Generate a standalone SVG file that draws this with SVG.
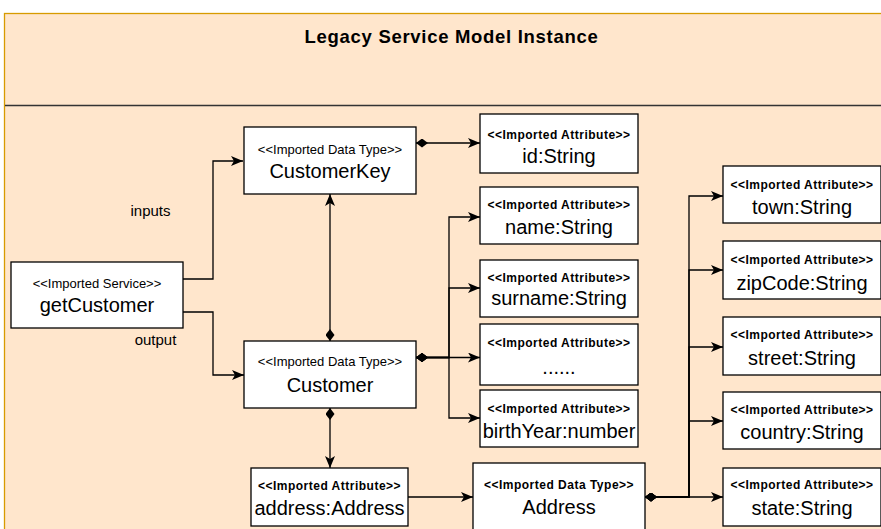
<svg xmlns="http://www.w3.org/2000/svg" width="881" height="529" viewBox="0 0 881 529">
<style>
text{font-family:"Liberation Sans",Arial,Helvetica,sans-serif;fill:#000;text-anchor:middle}
.box{fill:#fff;stroke:#000;stroke-width:1.3}
.st{font-size:13px}
.sb{font-size:12px;font-weight:bold;letter-spacing:0.5px}
.nm{font-size:20px}
.lbl{font-size:15px}
.title{font-size:18.5px;font-weight:bold;letter-spacing:0.7px}
.edge{fill:none;stroke:#000;stroke-width:1.3}
.arr{marker-end:url(#arrow)}
.dia{marker-start:url(#diamond)}
</style>
<defs>
<marker id="arrow" markerUnits="userSpaceOnUse" markerWidth="12" markerHeight="10" refX="12" refY="5" orient="auto" viewBox="0 0 12 10">
<path d="M0,0 L12,5 L0,10 L3,5 z" fill="#000"/>
</marker>
<marker id="diamond" markerUnits="userSpaceOnUse" markerWidth="12" markerHeight="9" refX="0" refY="4.5" orient="auto" viewBox="0 0 12 9">
<path d="M0,4.5 L6,0 L12,4.5 L6,9 z" fill="#000"/>
</marker>
</defs>
<g id="container">
<rect x="4.5" y="13.5" width="894" height="530" fill="#ffe6cc" stroke="#d79b00" stroke-width="1.3"/>
<line x1="5" y1="105.5" x2="881" y2="105.5" stroke="#333" stroke-width="1.3"/>
<text class="title" x="451.5" y="42.5">Legacy Service Model Instance</text>
</g>
<g id="connectors">
<path class="edge arr" d="M183,279 H213 V161 H243"/>
<path class="edge arr" d="M183,312 H213 V375 H244"/>
<path class="edge dia arr" d="M330,341 V194"/>
<path class="edge dia arr" d="M330,408 V468"/>
<path class="edge dia arr" d="M416,143 H480"/>
<path class="edge dia arr" d="M416,357.5 H449 V217 H480"/>
<path class="edge dia arr" d="M416,357.5 H449 V288 H480"/>
<path class="edge dia arr" d="M416,357.5 H480"/>
<path class="edge dia arr" d="M416,357.5 H449 V418 H480"/>
<path class="edge arr" d="M408,497 H473"/>
<path class="edge dia arr" d="M645,497 H689 V196 H723"/>
<path class="edge dia arr" d="M645,497 H689 V270 H723"/>
<path class="edge dia arr" d="M645,497 H689 V347 H723"/>
<path class="edge dia arr" d="M645,497 H689 V421 H723"/>
<path class="edge dia arr" d="M645,497 H723"/>
<text class="lbl" x="150.5" y="216">inputs</text>
<text class="lbl" x="155.5" y="345">output</text>
</g>
<g id="getCustomer">
<rect class="box" x="11" y="262" width="172" height="66"/>
<text class="st" x="97" y="288">&lt;&lt;Imported Service&gt;&gt;</text>
<text class="nm" x="97" y="312">getCustomer</text>
</g>
<g id="CustomerKey">
<rect class="box" x="244" y="127" width="172" height="67"/>
<text class="st" x="330" y="154">&lt;&lt;Imported Data Type&gt;&gt;</text>
<text class="nm" x="330" y="178">CustomerKey</text>
</g>
<g id="Customer">
<rect class="box" x="244" y="341" width="172" height="67"/>
<text class="st" x="330" y="366">&lt;&lt;Imported Data Type&gt;&gt;</text>
<text class="nm" x="330" y="392">Customer</text>
</g>
<g id="addressAttr">
<rect class="box" x="251" y="468" width="157" height="58"/>
<text class="sb" x="329.5" y="489.5">&lt;&lt;Imported Attribute&gt;&gt;</text>
<text class="nm" x="329.5" y="515">address:Address</text>
</g>
<g id="Address">
<rect class="box" x="473" y="463" width="172" height="80"/>
<text class="sb" x="559" y="488.5">&lt;&lt;Imported Data Type&gt;&gt;</text>
<text class="nm" x="559" y="513.5">Address</text>
</g>
<g id="idAttr">
<rect class="box" x="480" y="114" width="158" height="59"/>
<text class="sb" x="559" y="138.5">&lt;&lt;Imported Attribute&gt;&gt;</text>
<text class="nm" x="559" y="162.5">id:String</text>
</g>
<g id="nameAttr">
<rect class="box" x="480" y="187" width="158" height="57"/>
<text class="sb" x="559" y="208.5">&lt;&lt;Imported Attribute&gt;&gt;</text>
<text class="nm" x="559" y="233.5">name:String</text>
</g>
<g id="surnameAttr">
<rect class="box" x="480" y="260" width="158" height="57"/>
<text class="sb" x="559" y="281.5">&lt;&lt;Imported Attribute&gt;&gt;</text>
<text class="nm" x="559" y="305">surname:String</text>
</g>
<g id="moreAttr">
<rect class="box" x="480" y="324" width="158" height="61"/>
<text class="sb" x="559" y="346.5">&lt;&lt;Imported Attribute&gt;&gt;</text>
<text class="nm" x="559" y="373.5">......</text>
</g>
<g id="birthYearAttr">
<rect class="box" x="480" y="390" width="158" height="57"/>
<text class="sb" x="559" y="412.5">&lt;&lt;Imported Attribute&gt;&gt;</text>
<text class="nm" x="559" y="437.5">birthYear:number</text>
</g>
<g id="townAttr">
<rect class="box" x="723" y="166" width="158" height="57"/>
<text class="sb" x="802" y="188.5">&lt;&lt;Imported Attribute&gt;&gt;</text>
<text class="nm" x="802" y="213.5">town:String</text>
</g>
<g id="zipCodeAttr">
<rect class="box" x="723" y="241" width="158" height="58"/>
<text class="sb" x="802" y="263.5">&lt;&lt;Imported Attribute&gt;&gt;</text>
<text class="nm" x="802" y="290">zipCode:String</text>
</g>
<g id="streetAttr">
<rect class="box" x="723" y="317" width="158" height="58"/>
<text class="sb" x="802" y="338.5">&lt;&lt;Imported Attribute&gt;&gt;</text>
<text class="nm" x="802" y="365">street:String</text>
</g>
<g id="countryAttr">
<rect class="box" x="723" y="392" width="158" height="57"/>
<text class="sb" x="802" y="413.5">&lt;&lt;Imported Attribute&gt;&gt;</text>
<text class="nm" x="802" y="438.5">country:String</text>
</g>
<g id="stateAttr">
<rect class="box" x="723" y="468" width="158" height="58"/>
<text class="sb" x="802" y="488.5">&lt;&lt;Imported Attribute&gt;&gt;</text>
<text class="nm" x="802" y="515">state:String</text>
</g>
</svg>
